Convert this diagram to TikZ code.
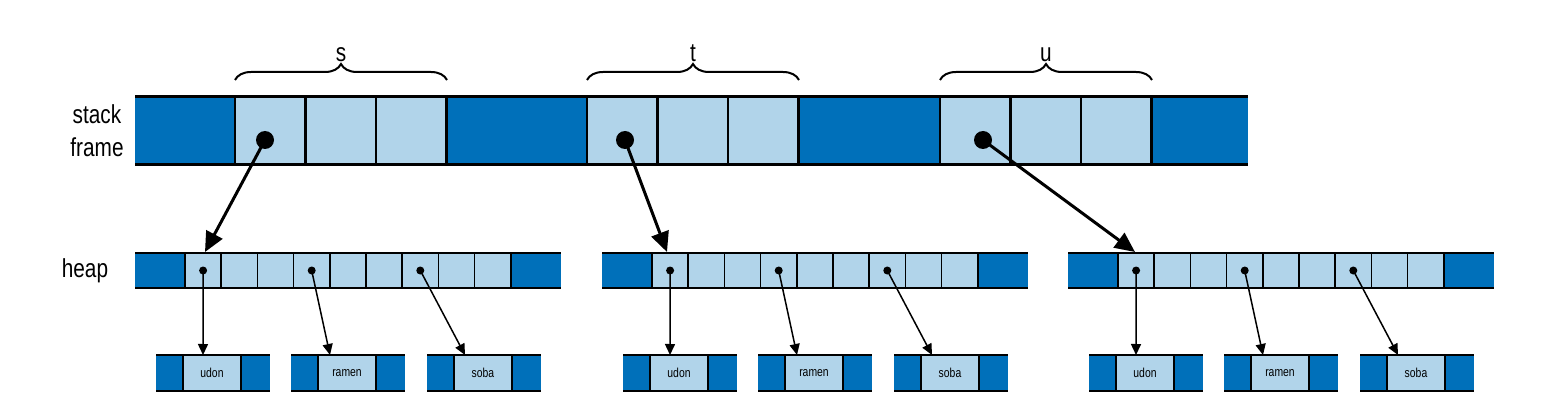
\documentclass[tikz,border=0pt]{standalone}
\usepackage{fontspec}
\setmainfont{Liberation Sans}[FakeStretch=0.8]
\usetikzlibrary{arrows.meta,decorations.pathreplacing}
\definecolor{dk}{HTML}{0070BA}
\definecolor{lt}{HTML}{B1D4EA}
\begin{document}
\begin{tikzpicture}[x=1pt,y=-1pt,
  cellbox/.style={anchor=north west,inner sep=0,outer sep=0},
  bigarrow/.style={line width=3pt,-{Triangle[length=20pt,width=18pt]}},
  smallarrow/.style={line width=1.5pt,-{Triangle[length=11pt,width=10pt]}},
  bigdot/.style={circle,fill=black,inner sep=0,minimum size=18pt},
  smalldot/.style={circle,fill=black,inner sep=0,minimum size=8pt},
  lbl/.style={font=\fontsize{26}{28}\selectfont}]
\useasboundingbox (0,0) rectangle (1542,406);
% stack frame
\fill[dk] (135,97) rectangle (1248,165);
\foreach \g/\x in {s/235,t/587,u/940}{
  \foreach \i in {0,1,2}{
    \node[cellbox,draw=black,line width=2.5pt,fill=lt,minimum width=70.5pt,minimum height=68pt] (\g\i) at (\x+\i*70.5,97) {};
  }
  \draw[decorate,decoration={brace,amplitude=16pt},line width=2pt] (\x,80) -- (\x+212,80)
    node[midway,above=14pt,lbl] (\g lab) {\g};
}
\draw[line width=3pt] (135,97) -- (1248,97) (135,165) -- (1248,165);
\node[lbl,align=center,font=\fontsize{26}{33}\selectfont] (stk) at (97,131) {stack\\frame};
\node[lbl] (hp) at (85,271) {heap};
% heaps
\foreach \h/\ox in {a/0,b/467,c/933}{
  \fill[dk] (135+\ox,253) rectangle (561+\ox,288);
  \foreach \i in {0,...,8}{
    \node[cellbox,draw=black,line width=1.5pt,fill=lt,minimum width=36.2pt,minimum height=35pt] (\h c\i) at (185+\ox+\i*36.2,253) {};
  }
  \draw[line width=2pt] (135+\ox,253) -- (561+\ox,253) (135+\ox,288) -- (561+\ox,288);
  \foreach \w/\sx [count=\k] in {udon/156,ramen/291,soba/427}{
    \fill[dk] (\sx+\ox,355) rectangle (\sx+114+\ox,391);
    \node[cellbox,draw=black,line width=1.5pt,fill=lt,minimum width=58pt,minimum height=36pt,font=\fontsize{13}{14}\selectfont] (\h w\k) at (\sx+27+\ox,355) {\w};
    \draw[line width=1.5pt] (\sx+\ox,355) -- (\sx+114+\ox,355) (\sx+\ox,391) -- (\sx+114+\ox,391);
  }
  \node[smalldot] (\h d1) at (\h c0.center) {};
  \node[smalldot] (\h d2) at (\h c3.center) {};
  \node[smalldot] (\h d3) at (\h c6.center) {};
  \coordinate (\h t1) at (203+\ox,355);
  \coordinate (\h t2) at (330+\ox,355);
  \coordinate (\h t3) at (465+\ox,355);
  \foreach \k in {1,2,3}{\draw[smallarrow] (\h d\k.center) -- (\h t\k);}
}
% stack pointers
\node[bigdot] (ps) at (265,140) {};
\node[bigdot] (pt) at (625,140) {};
\node[bigdot] (pu) at (983,140) {};
\coordinate (ha) at (205,252);
\coordinate (hb) at (667,252);
\coordinate (hc) at (1135,252);
\draw[bigarrow] (ps.center) -- (ha);
\draw[bigarrow] (pt.center) -- (hb);
\draw[bigarrow] (pu.center) -- (hc);
\end{tikzpicture}
\end{document}
